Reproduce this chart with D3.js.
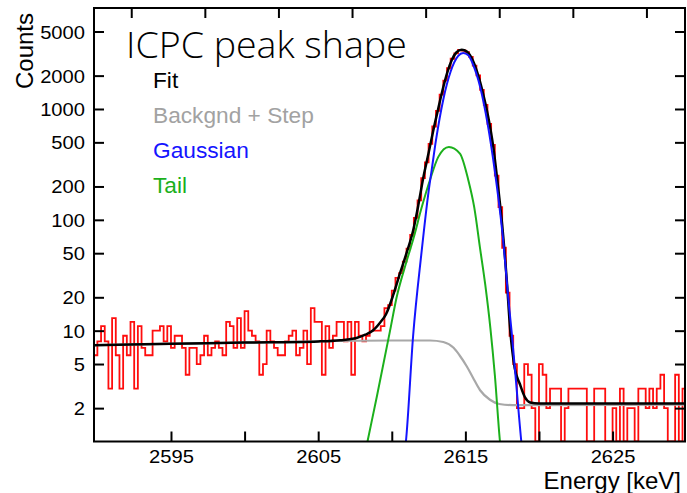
<!DOCTYPE html>
<html>
<head>
<meta charset="utf-8">
<script src="https://cdn.jsdelivr.net/npm/d3@7"></script>
<style>
  html, body { margin: 0; padding: 0; background: #fff; }
  svg { display: block; }
</style>
</head>
<body>
<div id="chart"></div>
<script>
// histogram, 0.25 keV bins, first bin starts at 2589.75 keV
const binStart = 2589.75;
const binWidth = 0.25;
const counts = [
  6, 8, 11, 8, 3, 13, 6, 3, 9, 6,
  12, 3, 11, 7, 6, 6, 10, 10, 11, 8,
  11, 7, 9, 9, 7, 4, 7, 7, 5, 6,
  9, 6, 7, 8, 7, 6, 12, 11, 7, 13,
  7, 15, 10, 9, 8, 4, 5, 10, 8, 7,
  6, 6, 8, 9, 10, 6, 7, 10, 5, 16,
  12, 12, 4, 11, 7, 9, 12, 12, 8, 12,
  4, 12, 9, 8, 9, 12, 10, 10, 11, 16,
  17, 23, 30, 33, 42, 55, 73, 104, 150, 238,
  330, 485, 695, 960, 1350, 1800, 2330, 2840, 3180, 3420,
  3370, 3250, 2950, 2460, 2010, 1490, 1090, 735, 475, 250,
  130, 56, 22, 9, 5, 2, 2, 5, 4, 2,
  1, 5, 4, 2, 3, 3, 3, 1, 2, 3,
  3, 3, 3, 3, 1, 1, 3, 3, 3, 1,
  1, 2, 1, 3, 1, 2, 2, 1, 3, 3,
  2, 3, 2, 3, 4, 2, 1, 1, 4, 1,
  3
];

// fit components
const fitEnergy = [2589.77, 2595, 2600, 2605, 2606.5, 2607.6, 2608.2, 2608.74, 2609.2, 2609.6,
  2610.1, 2610.56, 2611.0, 2611.46, 2611.8, 2612.14, 2612.5, 2612.82, 2613.15, 2613.5,
  2613.8, 2614.07, 2614.4, 2614.75, 2615.1, 2615.5, 2615.85, 2616.2, 2616.55, 2616.9,
  2617.2, 2617.5, 2617.8, 2618.05, 2618.35, 2618.7, 2619.05, 2619.4, 2620, 2629.92];
const fitCounts = [7.4, 7.6, 7.8, 8.0, 8.2, 8.6, 9.2, 10.1, 11.8, 14,
  21, 33, 50, 81, 135, 240, 400, 640, 1000, 1580,
  2200, 2750, 3250, 3430, 3300, 2750, 2050, 1380, 850, 450,
  210, 90, 30, 10, 4.6, 3.3, 2.5, 2.25, 2.2, 2.2];

const bkgEnergy = [2589.77, 2600, 2610, 2612.6, 2613.5, 2614.2, 2614.6, 2615.1, 2615.5, 2616.0,
  2616.67, 2617.3, 2618.2, 2629.92];
const bkgCounts = [7.4, 7.8, 8.15, 8.15, 7.9, 7.0, 6.0, 4.75, 3.8, 2.9,
  2.38, 2.18, 2.13, 2.15];

const gausEnergy = [2610.85, 2610.96, 2611.45, 2612.0, 2612.5, 2612.71, 2613.0, 2613.5, 2614.0, 2614.5,
  2614.85, 2615.2, 2615.5, 2616.0, 2616.5, 2617.0, 2617.5, 2618.0, 2618.15, 2618.5, 2618.8, 2618.9];
const gausCounts = [0.75, 1, 9, 48, 180, 281, 520, 1220, 2180, 3000,
  3200, 3050, 2560, 1590, 750, 275, 80, 15, 9.5, 2.8, 1, 0.75];

const tailEnergy = [2608.2, 2608.35, 2609.0, 2609.87, 2610.33, 2611.0, 2611.5, 2612.0, 2612.6, 2613.16,
  2613.88, 2614.63, 2615.2, 2615.6, 2616.0, 2616.35, 2616.7, 2617.0, 2617.35, 2617.45];
const tailCounts = [0.8, 1, 2.6, 9.8, 20, 42, 70, 125, 230, 370,
  455, 396, 228, 130, 55, 26, 10.5, 4, 1, 0.75];

const countTicks = [2, 5, 10, 20, 50, 100, 200, 500, 1000, 2000, 5000];
const energyTicks = [2595, 2600, 2605, 2610, 2615, 2620, 2625];
const energyLabels = [2595, 2605, 2615, 2625];
const topTicks = [2592.3, 2597.3, 2602.3, 2607.3, 2612.3, 2617.3, 2622.3, 2627.3];

const legendLabels = ["Fit", "Backgnd + Step", "Gaussian", "Tail"];
const legendColors = ["#000000", "#a2a2a2", "#1414ff", "#1cb01c"];

const W = 687, H = 493;
const margin = {top: 8, right: 2, bottom: 51.5, left: 94};
const width = W - margin.left - margin.right;
const height = H - margin.top - margin.bottom;
const sansFont = '"Liberation Sans", Arial, Helvetica, sans-serif';

const svg = d3.select("#chart").append("svg")
    .attr("width", W)
    .attr("height", H)
    .style("background", "#fff");

const x = d3.scaleLinear()
    .domain([2589.77, 2629.92])
    .range([0, width]);

const y = d3.scaleLog()
    .domain([1, 8150])
    .range([height, 0]);

const g = svg.append("g")
    .attr("transform", `translate(${margin.left}, ${margin.top})`);

g.append("clipPath").attr("id", "plotclip")
  .append("rect")
    .attr("width", width)
    .attr("height", height);

const plot = g.append("g").attr("clip-path", "url(#plotclip)");

// histogram as steps
const histPts = counts.map((c, i) => [binStart + i * binWidth, c]);
histPts.push([binStart + counts.length * binWidth, counts[counts.length - 1]]);

const stepLine = d3.line()
    .x(d => x(d[0]))
    .y(d => y(d[1]))
    .curve(d3.curveStepAfter);

plot.append("path")
    .datum(histPts)
    .attr("fill", "none")
    .attr("stroke", "#ff0d0d")
    .attr("stroke-width", 1.8)
    .attr("d", stepLine);

const smooth = d3.line()
    .x(d => x(d[0]))
    .y(d => y(d[1]))
    .curve(d3.curveMonotoneX);

const curves = [
  {e: bkgEnergy, v: bkgCounts, color: "#a8a8a8", w: 2.2},
  {e: fitEnergy, v: fitCounts, color: "#000000", w: 2.5},
  {e: tailEnergy, v: tailCounts, color: "#1cb01c", w: 2},
  {e: gausEnergy, v: gausCounts, color: "#1414ff", w: 2}
];

curves.forEach(c => {
  plot.append("path")
      .datum(c.e.map((e, i) => [e, c.v[i]]))
      .attr("fill", "none")
      .attr("stroke", c.color)
      .attr("stroke-width", c.w)
      .attr("stroke-linejoin", "round")
      .attr("d", smooth);
});

// axes, ticks pointing inward
const tickScale = 1.12;

const yAxis = g.append("g")
    .call(d3.axisLeft(y).tickValues(countTicks).tickFormat(d3.format("d"))
      .tickSizeInner(-10).tickSizeOuter(0).tickPadding(9));
yAxis.selectAll("text")
    .attr("x", -9 / tickScale)
    .attr("dy", "0.36em")
    .attr("transform", `scale(${tickScale},1)`);

g.append("g")
    .attr("transform", `translate(${width},0)`)
    .call(d3.axisRight(y).tickValues(countTicks).tickFormat("")
      .tickSizeInner(-10).tickSizeOuter(0));

const xAxis = g.append("g")
    .attr("transform", `translate(0,${height})`)
    .call(d3.axisBottom(x).tickValues(energyTicks)
      .tickFormat(d => energyLabels.includes(d) ? d : "")
      .tickSizeInner(-10).tickSizeOuter(0).tickPadding(9));
xAxis.selectAll("text")
    .attr("transform", `scale(${tickScale},1)`);

g.append("g")
    .call(d3.axisTop(x).tickValues(topTicks).tickFormat("")
      .tickSizeInner(-10).tickSizeOuter(0));

g.selectAll(".domain").remove();
g.selectAll(".tick line")
    .attr("stroke", "#000")
    .attr("stroke-width", 2);
g.selectAll(".tick text")
    .attr("fill", "#000")
    .style("font-family", sansFont)
    .style("font-size", "18px");

g.append("rect")
    .attr("width", width)
    .attr("height", height)
    .attr("fill", "none")
    .attr("stroke", "#000")
    .attr("stroke-width", 2);

// axis titles
svg.append("text")
    .attr("transform", "translate(33,13) rotate(-90)")
    .attr("text-anchor", "end")
    .style("font-family", sansFont)
    .style("font-size", "24px")
    .attr("fill", "#000")
    .text("Counts");

svg.append("text")
    .attr("x", 681)
    .attr("y", 489)
    .attr("text-anchor", "end")
    .style("font-family", sansFont)
    .style("font-size", "24px")
    .attr("fill", "#000")
    .text("Energy [keV]");

// title
svg.append("text")
    .attr("x", 126)
    .attr("y", 58)
    .style("font-family", '"Open Sans", "Noto Sans", sans-serif')
    .style("font-weight", 300)
    .style("font-size", "37.5px")
    .attr("fill", "#000")
    .text("ICPC peak shape");

// legend
svg.append("g").selectAll("text")
    .data(legendLabels)
    .enter().append("text")
    .attr("x", 153)
    .attr("y", (d, i) => 88 + i * 35)
    .style("font-family", sansFont)
    .style("font-size", "22.7px")
    .attr("fill", (d, i) => legendColors[i])
    .text(d => d);
</script>
</body>
</html>
